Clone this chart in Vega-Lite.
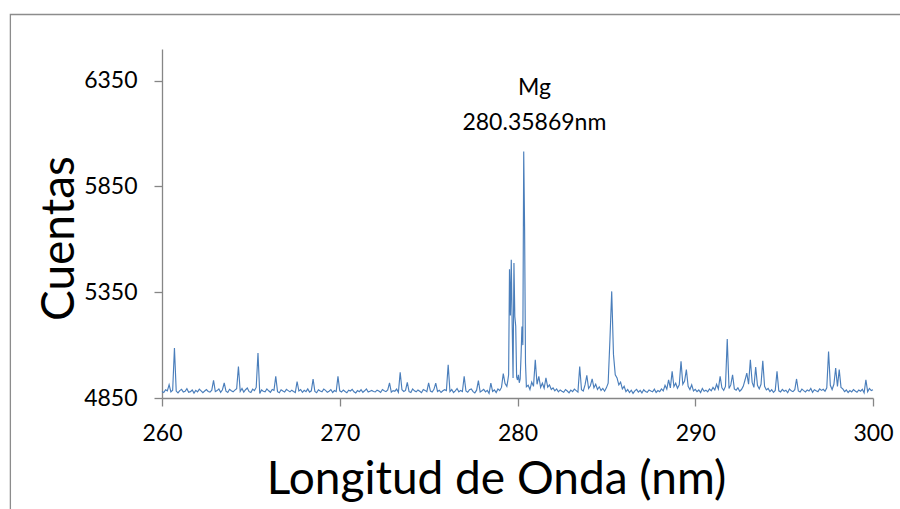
{
  "$schema": "https://vega.github.io/schema/vega-lite/v6.json",
  "width": 711,
  "height": 349,
  "autosize": {"type": "none"},
  "padding": {"left": 162, "top": 49, "right": 27, "bottom": 111},
  "background": "white",
  "config": {
    "view": {"stroke": null},
    "font": "Lato",
    "axis": {"grid": false, "domainColor": "#868686", "tickColor": "#868686", "domainWidth": 1.3, "tickWidth": 1.3, "tickSize": 8, "labelColor": "#000000", "labelFont": "Lato", "labelFontSize": 23, "labelFlush": false, "labelOverlap": false, "titleColor": "#000000", "titleFont": "Lato", "titleFontWeight": "normal", "titleFontSize": 46}
  },
  "data": {"values": [
    {"nm":260.0,"cuentas":4881},{"nm":260.1,"cuentas":4876},{"nm":260.2,"cuentas":4889},{"nm":260.3,"cuentas":4884},{"nm":260.4,"cuentas":4913},{"nm":260.5,"cuentas":4879},{"nm":260.6,"cuentas":4887},{"nm":260.7,"cuentas":5086},{"nm":260.8,"cuentas":4883},{"nm":260.9,"cuentas":4874},
    {"nm":261.0,"cuentas":4885},{"nm":261.1,"cuentas":4891},{"nm":261.2,"cuentas":4878},{"nm":261.3,"cuentas":4882},{"nm":261.4,"cuentas":4894},{"nm":261.5,"cuentas":4877},{"nm":261.6,"cuentas":4880},{"nm":261.7,"cuentas":4888},{"nm":261.8,"cuentas":4873},{"nm":261.9,"cuentas":4886},
    {"nm":262.0,"cuentas":4879},{"nm":262.1,"cuentas":4892},{"nm":262.2,"cuentas":4884},{"nm":262.3,"cuentas":4875},{"nm":262.4,"cuentas":4883},{"nm":262.5,"cuentas":4890},{"nm":262.6,"cuentas":4881},{"nm":262.7,"cuentas":4878},{"nm":262.8,"cuentas":4887},{"nm":262.9,"cuentas":4933},
    {"nm":263.0,"cuentas":4880},{"nm":263.1,"cuentas":4885},{"nm":263.2,"cuentas":4893},{"nm":263.3,"cuentas":4877},{"nm":263.4,"cuentas":4889},{"nm":263.5,"cuentas":4921},{"nm":263.6,"cuentas":4882},{"nm":263.7,"cuentas":4876},{"nm":263.8,"cuentas":4891},{"nm":263.9,"cuentas":4884},
    {"nm":264.0,"cuentas":4879},{"nm":264.1,"cuentas":4887},{"nm":264.2,"cuentas":4894},{"nm":264.3,"cuentas":4999},{"nm":264.4,"cuentas":4881},{"nm":264.5,"cuentas":4895},{"nm":264.6,"cuentas":4878},{"nm":264.7,"cuentas":4889},{"nm":264.8,"cuentas":4897},{"nm":264.9,"cuentas":4880},
    {"nm":265.0,"cuentas":4876},{"nm":265.1,"cuentas":4892},{"nm":265.2,"cuentas":4885},{"nm":265.3,"cuentas":4900},{"nm":265.4,"cuentas":5063},{"nm":265.5,"cuentas":4871},{"nm":265.6,"cuentas":4888},{"nm":265.7,"cuentas":4882},{"nm":265.8,"cuentas":4879},{"nm":265.9,"cuentas":4893},
    {"nm":266.0,"cuentas":4884},{"nm":266.1,"cuentas":4877},{"nm":266.2,"cuentas":4890},{"nm":266.3,"cuentas":4886},{"nm":266.4,"cuentas":4952},{"nm":266.5,"cuentas":4880},{"nm":266.6,"cuentas":4875},{"nm":266.7,"cuentas":4889},{"nm":266.8,"cuentas":4883},{"nm":266.9,"cuentas":4878},
    {"nm":267.0,"cuentas":4891},{"nm":267.1,"cuentas":4885},{"nm":267.2,"cuentas":4879},{"nm":267.3,"cuentas":4887},{"nm":267.4,"cuentas":4881},{"nm":267.5,"cuentas":4876},{"nm":267.6,"cuentas":4928},{"nm":267.7,"cuentas":4883},{"nm":267.8,"cuentas":4890},{"nm":267.9,"cuentas":4877},
    {"nm":268.0,"cuentas":4886},{"nm":268.1,"cuentas":4880},{"nm":268.2,"cuentas":4893},{"nm":268.3,"cuentas":4878},{"nm":268.4,"cuentas":4884},{"nm":268.5,"cuentas":4940},{"nm":268.6,"cuentas":4881},{"nm":268.7,"cuentas":4875},{"nm":268.8,"cuentas":4889},{"nm":268.9,"cuentas":4883},
    {"nm":269.0,"cuentas":4879},{"nm":269.1,"cuentas":4892},{"nm":269.2,"cuentas":4886},{"nm":269.3,"cuentas":4877},{"nm":269.4,"cuentas":4882},{"nm":269.5,"cuentas":4890},{"nm":269.6,"cuentas":4876},{"nm":269.7,"cuentas":4885},{"nm":269.8,"cuentas":4880},{"nm":269.9,"cuentas":4952},
    {"nm":270.0,"cuentas":4884},{"nm":270.1,"cuentas":4878},{"nm":270.2,"cuentas":4888},{"nm":270.3,"cuentas":4881},{"nm":270.4,"cuentas":4875},{"nm":270.5,"cuentas":4887},{"nm":270.6,"cuentas":4883},{"nm":270.7,"cuentas":4891},{"nm":270.8,"cuentas":4879},{"nm":270.9,"cuentas":4874},
    {"nm":271.0,"cuentas":4885},{"nm":271.1,"cuentas":4880},{"nm":271.2,"cuentas":4889},{"nm":271.3,"cuentas":4877},{"nm":271.4,"cuentas":4884},{"nm":271.5,"cuentas":4893},{"nm":271.6,"cuentas":4878},{"nm":271.7,"cuentas":4882},{"nm":271.8,"cuentas":4886},{"nm":271.9,"cuentas":4881},
    {"nm":272.0,"cuentas":4879},{"nm":272.1,"cuentas":4887},{"nm":272.2,"cuentas":4883},{"nm":272.3,"cuentas":4876},{"nm":272.4,"cuentas":4890},{"nm":272.5,"cuentas":4884},{"nm":272.6,"cuentas":4880},{"nm":272.7,"cuentas":4888},{"nm":272.8,"cuentas":4921},{"nm":272.9,"cuentas":4878},
    {"nm":273.0,"cuentas":4885},{"nm":273.1,"cuentas":4882},{"nm":273.2,"cuentas":4892},{"nm":273.3,"cuentas":4877},{"nm":273.4,"cuentas":4971},{"nm":273.5,"cuentas":4889},{"nm":273.6,"cuentas":4881},{"nm":273.7,"cuentas":4886},{"nm":273.8,"cuentas":4924},{"nm":273.9,"cuentas":4880},
    {"nm":274.0,"cuentas":4876},{"nm":274.1,"cuentas":4893},{"nm":274.2,"cuentas":4884},{"nm":274.3,"cuentas":4879},{"nm":274.4,"cuentas":4888},{"nm":274.5,"cuentas":4882},{"nm":274.6,"cuentas":4875},{"nm":274.7,"cuentas":4890},{"nm":274.8,"cuentas":4886},{"nm":274.9,"cuentas":4880},
    {"nm":275.0,"cuentas":4921},{"nm":275.1,"cuentas":4883},{"nm":275.2,"cuentas":4878},{"nm":275.3,"cuentas":4891},{"nm":275.4,"cuentas":4920},{"nm":275.5,"cuentas":4881},{"nm":275.6,"cuentas":4887},{"nm":275.7,"cuentas":4876},{"nm":275.8,"cuentas":4884},{"nm":275.9,"cuentas":4889},
    {"nm":276.0,"cuentas":4885},{"nm":276.1,"cuentas":5007},{"nm":276.2,"cuentas":4880},{"nm":276.3,"cuentas":4890},{"nm":276.4,"cuentas":4876},{"nm":276.5,"cuentas":4884},{"nm":276.6,"cuentas":4895},{"nm":276.7,"cuentas":4879},{"nm":276.8,"cuentas":4886},{"nm":276.9,"cuentas":4881},
    {"nm":277.0,"cuentas":4952},{"nm":277.1,"cuentas":4883},{"nm":277.2,"cuentas":4877},{"nm":277.3,"cuentas":4889},{"nm":277.4,"cuentas":4893},{"nm":277.5,"cuentas":4880},{"nm":277.6,"cuentas":4874},{"nm":277.7,"cuentas":4887},{"nm":277.8,"cuentas":4932},{"nm":277.9,"cuentas":4878},
    {"nm":278.0,"cuentas":4884},{"nm":278.1,"cuentas":4891},{"nm":278.2,"cuentas":4879},{"nm":278.3,"cuentas":4886},{"nm":278.4,"cuentas":4872},{"nm":278.5,"cuentas":4920},{"nm":278.6,"cuentas":4881},{"nm":278.7,"cuentas":4888},{"nm":278.8,"cuentas":4876},{"nm":278.9,"cuentas":4893},
    {"nm":279.0,"cuentas":4885},{"nm":279.1,"cuentas":4900},{"nm":279.2,"cuentas":4965},{"nm":279.3,"cuentas":4918},
    {"nm":279.40,"cuentas":4905},{"nm":279.45,"cuentas":4930},{"nm":279.50,"cuentas":4960},{"nm":279.55,"cuentas":5459},{"nm":279.60,"cuentas":5240},{"nm":279.65,"cuentas":5503},{"nm":279.70,"cuentas":5196},{"nm":279.75,"cuentas":4945},{"nm":279.80,"cuentas":5488},{"nm":279.85,"cuentas":5235},
    {"nm":279.90,"cuentas":5190},{"nm":279.95,"cuentas":4950},{"nm":280.00,"cuentas":4935},{"nm":280.05,"cuentas":4960},{"nm":280.10,"cuentas":4922},{"nm":280.15,"cuentas":4940},{"nm":280.20,"cuentas":5050},{"nm":280.25,"cuentas":5188},{"nm":280.30,"cuentas":5100},{"nm":280.35,"cuentas":6015},
    {"nm":280.40,"cuentas":5645},{"nm":280.45,"cuentas":5015},{"nm":280.50,"cuentas":4903},
    {"nm":280.6,"cuentas":4910},{"nm":280.7,"cuentas":4890},{"nm":280.8,"cuentas":4925},{"nm":280.9,"cuentas":4905},{"nm":281.0,"cuentas":5031},{"nm":281.1,"cuentas":4915},{"nm":281.2,"cuentas":4952},{"nm":281.3,"cuentas":4900},{"nm":281.4,"cuentas":4920},{"nm":281.5,"cuentas":4896},
    {"nm":281.6,"cuentas":4945},{"nm":281.7,"cuentas":4901},{"nm":281.8,"cuentas":4912},{"nm":281.9,"cuentas":4890},{"nm":282.0,"cuentas":4898},{"nm":282.1,"cuentas":4884},{"nm":282.2,"cuentas":4893},{"nm":282.3,"cuentas":4879},{"nm":282.4,"cuentas":4888},{"nm":282.5,"cuentas":4882},
    {"nm":282.6,"cuentas":4877},{"nm":282.7,"cuentas":4890},{"nm":282.8,"cuentas":4883},{"nm":282.9,"cuentas":4874},{"nm":283.0,"cuentas":4887},{"nm":283.1,"cuentas":4880},{"nm":283.2,"cuentas":4892},{"nm":283.3,"cuentas":4885},{"nm":283.4,"cuentas":4878},{"nm":283.5,"cuentas":4999},
    {"nm":283.6,"cuentas":4889},{"nm":283.7,"cuentas":4883},{"nm":283.8,"cuentas":4912},{"nm":283.9,"cuentas":4957},
    {"nm":284.0,"cuentas":4895},{"nm":284.1,"cuentas":4908},{"nm":284.2,"cuentas":4940},{"nm":284.3,"cuentas":4898},{"nm":284.4,"cuentas":4915},{"nm":284.5,"cuentas":4890},{"nm":284.6,"cuentas":4903},{"nm":284.7,"cuentas":4886},{"nm":284.8,"cuentas":4895},{"nm":284.9,"cuentas":4882},
    {"nm":285.0,"cuentas":4898},{"nm":285.1,"cuentas":4920},{"nm":285.2,"cuentas":5125},{"nm":285.3,"cuentas":5354},{"nm":285.4,"cuentas":5055},{"nm":285.5,"cuentas":4960},{"nm":285.6,"cuentas":4945},{"nm":285.7,"cuentas":4912},{"nm":285.8,"cuentas":4925},{"nm":285.9,"cuentas":4893},
    {"nm":286.0,"cuentas":4905},{"nm":286.1,"cuentas":4880},{"nm":286.2,"cuentas":4890},{"nm":286.3,"cuentas":4876},{"nm":286.4,"cuentas":4887},{"nm":286.5,"cuentas":4872},{"nm":286.6,"cuentas":4884},{"nm":286.7,"cuentas":4891},{"nm":286.8,"cuentas":4878},{"nm":286.9,"cuentas":4886},
    {"nm":287.0,"cuentas":4874},{"nm":287.1,"cuentas":4889},{"nm":287.2,"cuentas":4881},{"nm":287.3,"cuentas":4877},{"nm":287.4,"cuentas":4888},{"nm":287.5,"cuentas":4883},{"nm":287.6,"cuentas":4879},{"nm":287.7,"cuentas":4892},{"nm":287.8,"cuentas":4876},{"nm":287.9,"cuentas":4885},
    {"nm":288.0,"cuentas":4880},{"nm":288.1,"cuentas":4893},{"nm":288.2,"cuentas":4884},{"nm":288.3,"cuentas":4910},{"nm":288.4,"cuentas":4892},{"nm":288.5,"cuentas":4936},{"nm":288.6,"cuentas":4898},{"nm":288.7,"cuentas":4976},{"nm":288.8,"cuentas":4904},{"nm":288.9,"cuentas":4920},
    {"nm":289.0,"cuentas":4896},{"nm":289.1,"cuentas":4912},{"nm":289.2,"cuentas":5023},{"nm":289.3,"cuentas":4915},{"nm":289.4,"cuentas":4930},{"nm":289.5,"cuentas":4984},{"nm":289.6,"cuentas":4905},{"nm":289.7,"cuentas":4890},{"nm":289.8,"cuentas":4912},{"nm":289.9,"cuentas":4883},
    {"nm":290.0,"cuentas":4891},{"nm":290.1,"cuentas":4880},{"nm":290.2,"cuentas":4888},{"nm":290.3,"cuentas":4876},{"nm":290.4,"cuentas":4895},{"nm":290.5,"cuentas":4882},{"nm":290.6,"cuentas":4887},{"nm":290.7,"cuentas":4879},{"nm":290.8,"cuentas":4893},{"nm":290.9,"cuentas":4884},
    {"nm":291.0,"cuentas":4900},{"nm":291.1,"cuentas":4888},{"nm":291.2,"cuentas":4915},{"nm":291.3,"cuentas":4893},{"nm":291.4,"cuentas":4952},{"nm":291.5,"cuentas":4898},{"nm":291.6,"cuentas":4886},{"nm":291.7,"cuentas":4905},{"nm":291.8,"cuentas":5129},{"nm":291.9,"cuentas":4895},
    {"nm":292.0,"cuentas":4912},{"nm":292.1,"cuentas":4960},{"nm":292.2,"cuentas":4893},{"nm":292.3,"cuentas":4887},{"nm":292.4,"cuentas":4898},{"nm":292.5,"cuentas":4882},{"nm":292.6,"cuentas":4890},{"nm":292.7,"cuentas":4905},{"nm":292.8,"cuentas":4935},{"nm":292.9,"cuentas":4968},
    {"nm":293.0,"cuentas":4915},{"nm":293.1,"cuentas":5031},{"nm":293.2,"cuentas":4925},{"nm":293.3,"cuentas":4900},{"nm":293.4,"cuentas":4996},{"nm":293.5,"cuentas":4910},{"nm":293.6,"cuentas":4893},{"nm":293.7,"cuentas":4915},{"nm":293.8,"cuentas":5026},{"nm":293.9,"cuentas":4905},
    {"nm":294.0,"cuentas":4888},{"nm":294.1,"cuentas":4895},{"nm":294.2,"cuentas":4880},{"nm":294.3,"cuentas":4889},{"nm":294.4,"cuentas":4877},{"nm":294.5,"cuentas":4886},{"nm":294.6,"cuentas":4976},{"nm":294.7,"cuentas":4884},{"nm":294.8,"cuentas":4879},{"nm":294.9,"cuentas":4891},
    {"nm":295.0,"cuentas":4882},{"nm":295.1,"cuentas":4887},{"nm":295.2,"cuentas":4875},{"nm":295.3,"cuentas":4893},{"nm":295.4,"cuentas":4884},{"nm":295.5,"cuentas":4880},{"nm":295.6,"cuentas":4889},{"nm":295.7,"cuentas":4940},{"nm":295.8,"cuentas":4883},{"nm":295.9,"cuentas":4878},
    {"nm":296.0,"cuentas":4892},{"nm":296.1,"cuentas":4885},{"nm":296.2,"cuentas":4879},{"nm":296.3,"cuentas":4888},{"nm":296.4,"cuentas":4883},{"nm":296.5,"cuentas":4895},{"nm":296.6,"cuentas":4877},{"nm":296.7,"cuentas":4889},{"nm":296.8,"cuentas":4884},{"nm":296.9,"cuentas":4880},
    {"nm":297.0,"cuentas":4893},{"nm":297.1,"cuentas":4886},{"nm":297.2,"cuentas":4891},{"nm":297.3,"cuentas":4882},{"nm":297.4,"cuentas":4898},{"nm":297.5,"cuentas":5070},{"nm":297.6,"cuentas":4910},{"nm":297.7,"cuentas":4890},{"nm":297.8,"cuentas":4915},{"nm":297.9,"cuentas":4992},
    {"nm":298.0,"cuentas":4905},{"nm":298.1,"cuentas":4984},{"nm":298.2,"cuentas":4900},{"nm":298.3,"cuentas":4893},{"nm":298.4,"cuentas":4880},{"nm":298.5,"cuentas":4888},{"nm":298.6,"cuentas":4876},{"nm":298.7,"cuentas":4885},{"nm":298.8,"cuentas":4879},{"nm":298.9,"cuentas":4890},
    {"nm":299.0,"cuentas":4883},{"nm":299.1,"cuentas":4877},{"nm":299.2,"cuentas":4888},{"nm":299.3,"cuentas":4882},{"nm":299.4,"cuentas":4891},{"nm":299.5,"cuentas":4874},{"nm":299.6,"cuentas":4936},{"nm":299.7,"cuentas":4880},{"nm":299.8,"cuentas":4895},{"nm":299.9,"cuentas":4885},{"nm":300.0,"cuentas":4889}
  ]},
  "layer": [
    {
      "data": {"values": [{"marco": "borde"}]},
      "mark": {"type": "rect", "filled": false, "stroke": "#8c8c8c", "strokeWidth": 1.3, "clip": false},
      "encoding": {
        "x": {"datum": 251.47, "type": "quantitative"},
        "x2": {"datum": 303.5},
        "y": {"datum": 6663, "type": "quantitative"},
        "y2": {"datum": 4200}
      }
    },
    {
      "mark": {"type": "line", "color": "#4a7ebb", "strokeWidth": 1.15, "interpolate": "linear"},
      "encoding": {
        "x": {"field": "nm", "type": "quantitative",
              "scale": {"domain": [260, 300], "nice": false, "zero": false},
              "axis": {"values": [260, 270, 280, 290, 300], "format": "d", "labelPadding": 16, "title": "Longitud de Onda (nm)", "titleX": 334, "titleY": 95, "titleBaseline": "alphabetic", "titleAlign": "center"}},
        "y": {"field": "cuentas", "type": "quantitative",
              "scale": {"domain": [4850, 6500], "nice": false, "zero": false},
              "axis": {"values": [4850, 5350, 5850, 6350], "format": "d", "labelPadding": 17, "title": "Cuentas", "titleX": -89, "titleY": 189, "titleBaseline": "alphabetic", "titleAlign": "center", "titleAngle": 270}}
      }
    },
    {
      "data": {"values": [{"elemento": "Mg", "linea": "280.35869nm"}]},
      "mark": {"type": "text", "font": "Lato", "fontSize": 23, "color": "#000000", "align": "center", "baseline": "alphabetic", "lineHeight": 35},
      "encoding": {
        "x": {"datum": 280.95, "type": "quantitative"},
        "y": {"datum": 6283, "type": "quantitative"},
        "text": {"value": ["Mg", "280.35869nm"]}
      }
    }
  ]
}
